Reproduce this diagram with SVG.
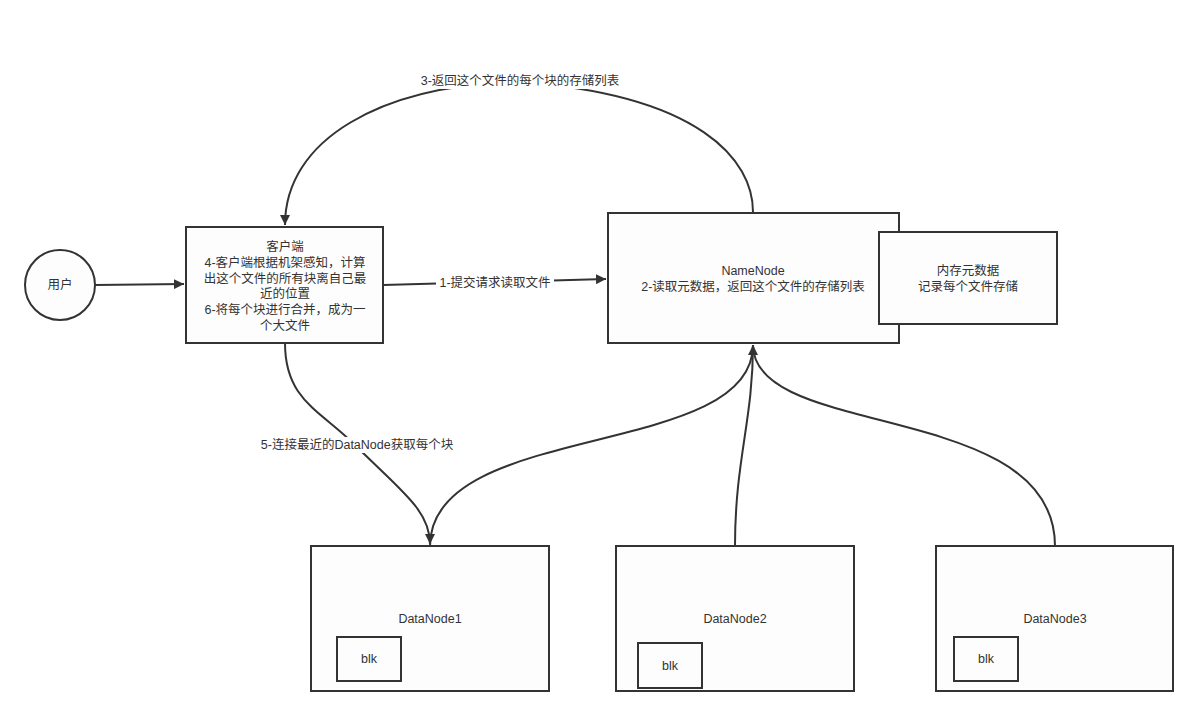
<svg xmlns="http://www.w3.org/2000/svg" width="1199" height="715" viewBox="0 0 1199 715">
<style>
.box{fill:#fdfdfd;stroke:#333;stroke-width:2}
.t{font-family:"Liberation Sans","Noto Sans CJK SC",sans-serif;font-size:12.5px;fill:#333;text-anchor:middle}
.e{fill:none;stroke:#333;stroke-width:2}
.lbl{fill:#fff}
</style>
<defs>
<marker id="ar" viewBox="0 0 10 10" refX="10" refY="5" markerWidth="5" markerHeight="5" markerUnits="strokeWidth" orient="auto">
<path d="M0,0 L10,5 L0,10 Z" fill="#333"/>
</marker>
</defs>
<rect width="1199" height="715" fill="#fff"/>
<g id="connectors">
<path class="e" d="M95,285 L184,284" marker-end="url(#ar)"/>
<path class="e" d="M383,285 L606,279" marker-end="url(#ar)"/>
<path class="e" d="M753,212 C753,160 700,95 520,82 C380,85 285,140 285,225" marker-end="url(#ar)"/>
<path class="e" d="M285,343 C285,400 320,410 355,445 C400,490 430,510 430,544" marker-end="url(#ar)"/>
<path class="e" d="M430,546 C430,420 753,460 753,345" marker-end="url(#ar)"/>
<path class="e" d="M735,546 C735,460 753,420 753,345"/>
<path class="e" d="M1055,546 C1055,400 753,440 753,345"/>
<rect class="lbl" x="436" y="275" width="118" height="16"/>
<text class="t" x="495" y="287">1-提交请求读取文件</text>
<rect class="lbl" x="414" y="73" width="212" height="16"/>
<text class="t" x="520" y="85">3-返回这个文件的每个块的存储列表</text>
<rect class="lbl" x="251" y="437" width="212" height="16"/>
<text class="t" x="357" y="449">5-连接最近的DataNode获取每个块</text>
</g>
<g id="user">
<circle cx="60" cy="285" r="35" fill="#fdfdfd" stroke="#333" stroke-width="2"/>
<text class="t" x="60" y="289">用户</text>
</g>
<g id="client">
<rect class="box" x="186" y="227" width="197" height="116"/>
<text class="t" x="285" y="251">客户端</text>
<text class="t" x="285" y="267">4-客户端根据机架感知，计算</text>
<text class="t" x="285" y="283">出这个文件的所有块离自己最</text>
<text class="t" x="285" y="298">近的位置</text>
<text class="t" x="285" y="314">6-将每个块进行合并，成为一</text>
<text class="t" x="285" y="330">个大文件</text>
</g>
<g id="namenode">
<rect class="box" x="608" y="213" width="291" height="130"/>
<text class="t" x="753" y="275">NameNode</text>
<text class="t" x="753" y="291">2-读取元数据，返回这个文件的存储列表</text>
</g>
<g id="memory">
<rect class="box" x="879" y="232" width="178" height="92"/>
<text class="t" x="968" y="275">内存元数据</text>
<text class="t" x="968" y="291">记录每个文件存储</text>
</g>
<g id="datanode1">
<rect class="box" x="311" y="546" width="238" height="145"/>
<text class="t" x="430" y="623">DataNode1</text>
<rect class="box" x="337" y="637" width="64" height="44"/>
<text class="t" x="369" y="663">blk</text>
</g>
<g id="datanode2">
<rect class="box" x="616" y="546" width="238" height="145"/>
<text class="t" x="735" y="623">DataNode2</text>
<rect class="box" x="638" y="643" width="64" height="45"/>
<text class="t" x="670" y="670">blk</text>
</g>
<g id="datanode3">
<rect class="box" x="936" y="546" width="237" height="145"/>
<text class="t" x="1055" y="623">DataNode3</text>
<rect class="box" x="954" y="637" width="64" height="44"/>
<text class="t" x="986" y="663">blk</text>
</g>
</svg>
